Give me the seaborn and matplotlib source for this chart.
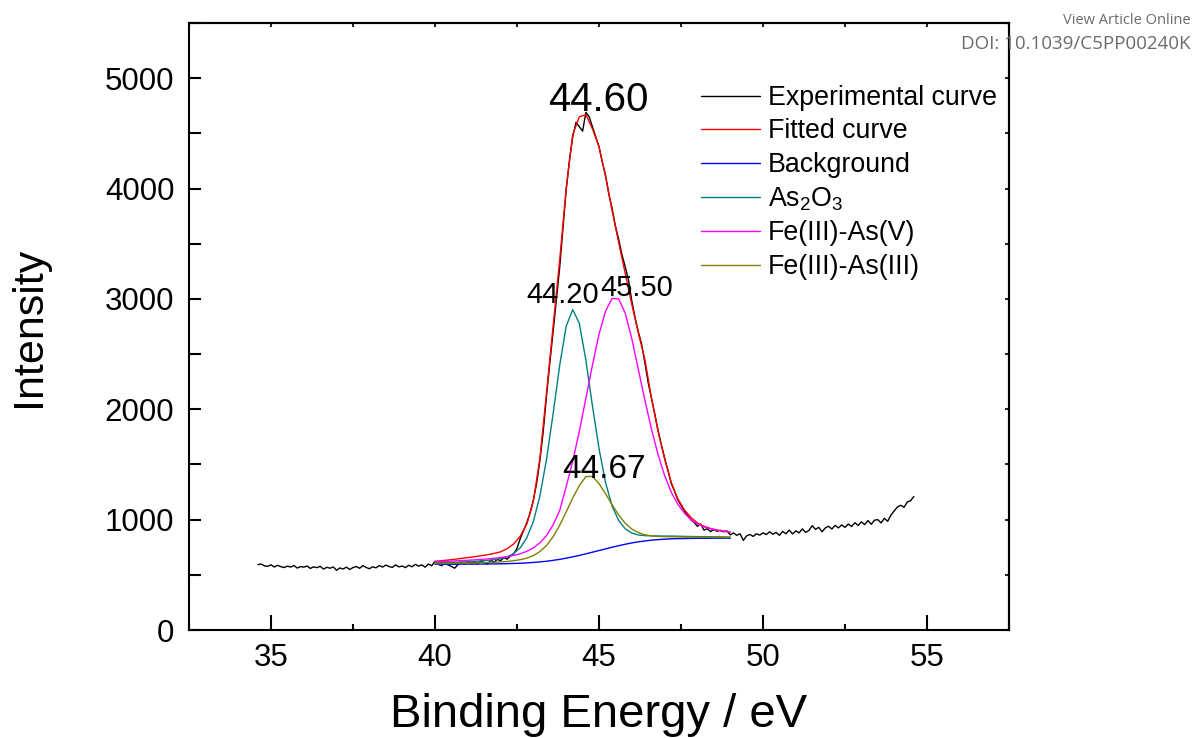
import seaborn as sns
import matplotlib.pyplot as plt
from matplotlib.ticker import MultipleLocator

# experimental spectrum (As 3d region)
exp_energy = [
    34.6, 34.7, 34.8, 34.9, 35.0, 35.1, 35.2, 35.3, 35.4, 35.5,
    35.6, 35.7, 35.8, 35.9, 36.0, 36.1, 36.2, 36.3, 36.4, 36.5,
    36.6, 36.7, 36.8, 36.9, 37.0, 37.1, 37.2, 37.3, 37.4, 37.5,
    37.6, 37.7, 37.8, 37.9, 38.0, 38.1, 38.2, 38.3, 38.4, 38.5,
    38.6, 38.7, 38.8, 38.9, 39.0, 39.1, 39.2, 39.3, 39.4, 39.5,
    39.6, 39.7, 39.8, 39.9, 40.0, 40.1, 40.2, 40.3, 40.4, 40.5,
    40.6, 40.7, 40.8, 40.9, 41.0, 41.1, 41.2, 41.3, 41.4, 41.5,
    41.6, 41.7, 41.8, 41.9, 42.0, 42.1, 42.2, 42.3, 42.4, 42.5,
    42.6, 42.7, 42.8, 42.9, 43.0, 43.1, 43.2, 43.3, 43.4, 43.5,
    43.6, 43.7, 43.8, 43.9, 44.0, 44.1, 44.2, 44.3, 44.4, 44.5,
    44.6, 44.7, 44.8, 44.9, 45.0, 45.1, 45.2, 45.3, 45.4, 45.5,
    45.6, 45.7, 45.8, 45.9, 46.0, 46.1, 46.2, 46.3, 46.4, 46.5,
    46.6, 46.7, 46.8, 46.9, 47.0, 47.1, 47.2, 47.3, 47.4, 47.5,
    47.6, 47.7, 47.8, 47.9, 48.0, 48.1, 48.2, 48.3, 48.4, 48.5,
    48.6, 48.7, 48.8, 48.9, 49.0, 49.1, 49.2, 49.3, 49.4, 49.5,
    49.6, 49.7, 49.8, 49.9, 50.0, 50.1, 50.2, 50.3, 50.4, 50.5,
    50.6, 50.7, 50.8, 50.9, 51.0, 51.1, 51.2, 51.3, 51.4, 51.5,
    51.6, 51.7, 51.8, 51.9, 52.0, 52.1, 52.2, 52.3, 52.4, 52.5,
    52.6, 52.7, 52.8, 52.9, 53.0, 53.1, 53.2, 53.3, 53.4, 53.5,
    53.6, 53.7, 53.8, 53.9, 54.0, 54.1, 54.2, 54.3, 54.4, 54.5,
    54.6,
]
exp_intensity = [
    592, 598, 581, 577, 590, 571, 586, 574, 566, 579,
    570, 584, 561, 575, 569, 580, 558, 572, 565, 577,
    552, 568, 560, 571, 541, 562, 553, 570, 548, 566,
    575, 559, 583, 567, 555, 573, 563, 584, 570, 588,
    575, 567, 590, 572, 580, 565, 587, 573, 595, 579,
    590, 569, 598, 582, 622, 595, 583, 602, 590, 576,
    560, 592, 614, 598, 620, 603, 617, 600, 626, 610,
    598, 632, 614, 640, 628, 655, 642, 670, 690, 740,
    830, 900, 975, 1060, 1180, 1330, 1540, 1800, 2120, 2420,
    2700, 2990, 3280, 3640, 3990, 4260, 4470, 4600, 4560, 4520,
    4690, 4650, 4560, 4470, 4380, 4240, 4120, 3950, 3820, 3660,
    3540, 3400, 3290, 3170, 2980, 2830, 2700, 2590, 2420, 2240,
    2100, 1960, 1810, 1680, 1560, 1450, 1330, 1260, 1180, 1130,
    1080, 1040, 1000, 975, 940, 960, 905, 918, 892, 910,
    895, 903, 890, 898, 862, 880, 858, 872, 812, 853,
    866, 848, 872, 860, 880, 865, 890, 868, 884, 858,
    893, 872, 905, 870, 898, 880, 916, 885, 902, 945,
    912, 930, 890, 925, 940, 915, 948, 925, 952, 930,
    960, 938, 972, 948, 980, 955, 992, 958, 995, 1000,
    970, 1012, 985, 1040, 1080, 1115, 1130, 1112, 1160, 1172,
    1210,
]

# fitted components
fit_energy = [
    40.0, 40.2, 40.4, 40.6, 40.8, 41.0, 41.2, 41.4, 41.6, 41.8,
    42.0, 42.2, 42.4, 42.6, 42.8, 43.0, 43.2, 43.4, 43.6, 43.8,
    44.0, 44.2, 44.4, 44.6, 44.8, 45.0, 45.2, 45.4, 45.6, 45.8,
    46.0, 46.2, 46.4, 46.6, 46.8, 47.0, 47.2, 47.4, 47.6, 47.8,
    48.0, 48.2, 48.4, 48.6, 48.8, 49.0,
]
fitted = [
    622, 628, 634, 641, 649, 656, 664, 673, 682, 694,
    708, 737, 780, 850, 960, 1170, 1560, 2150, 2750, 3350,
    4000, 4490, 4650, 4670, 4540, 4380, 4110, 3800, 3510, 3230,
    2950, 2690, 2450, 2100, 1800, 1550, 1340, 1190, 1090, 1020,
    970, 940, 920, 905, 895, 888,
]
background = [
    596, 596, 596, 596, 597, 597, 597, 598, 598, 599,
    600, 601, 603, 605, 608, 612, 617, 623, 631, 640,
    651, 663, 676, 690, 705, 720, 735, 750, 764, 777,
    789, 799, 807, 814, 819, 823, 826, 828, 829, 830,
    831, 831, 832, 832, 832, 832,
]
as2o3 = [
    609, 610, 611, 613, 616, 619, 622, 626, 631, 638,
    648, 663, 693, 745, 836, 984, 1217, 1548, 1957, 2395,
    2753, 2903, 2778, 2445, 2031, 1645, 1335, 1122, 992, 917,
    879, 861, 855, 853, 852, 851, 851, 850, 848, 847,
    846, 845, 845, 844, 843, 842,
]
fe3_as5 = [
    620, 622, 623, 626, 629, 632, 635, 640, 644, 650,
    656, 665, 676, 691, 713, 744, 790, 856, 952, 1082,
    1300, 1530, 1800, 2100, 2400, 2680, 2890, 3005, 3000, 2870,
    2640, 2360, 2080, 1820, 1590, 1400, 1250, 1140, 1060, 1000,
    962, 935, 917, 905, 896, 888,
]
fe3_as3 = [
    602, 602, 603, 604, 605, 606, 607, 610, 611, 614,
    617, 621, 628, 637, 651, 674, 711, 766, 845, 948,
    1070, 1197, 1308, 1390, 1392, 1326, 1235, 1134, 1042, 967,
    915, 882, 862, 853, 848, 846, 845, 844, 843, 843,
    842, 841, 841, 840, 839, 839,
]

series_labels = ["Experimental curve", "Fitted curve", "Background",
                 "As$_2$O$_3$", "Fe(III)-As(V)", "Fe(III)-As(III)"]
series_colors = ["black", "#ff0000", "#0000ff", "#008080", "#ff00ff", "#808000"]

# peak position labels
peak_text = ["44.60", "44.20", "45.50", "44.67"]
peak_text_x = [44.97, 43.89, 46.14, 45.15]
peak_text_y = [4700, 2967, 3022, 1379]
peak_text_size = [29, 21, 21, 24]

sns.set_style("ticks")
plt.rcParams["font.family"] = ["Liberation Sans", "DejaVu Sans"]
plt.rcParams["mathtext.fontset"] = "custom"
plt.rcParams["mathtext.rm"] = "Liberation Sans"
plt.rcParams["mathtext.it"] = "Liberation Sans:italic"
plt.rcParams["text.color"] = "black"
plt.rcParams["axes.labelcolor"] = "black"

fig, ax = plt.subplots(figsize=(11.92, 7.38), dpi=100)
fig.subplots_adjust(left=189 / 1192, right=1009 / 1192, bottom=108 / 738, top=715 / 738)

xs = [exp_energy] + [fit_energy] * 5
ys = [exp_intensity, fitted, background, as2o3, fe3_as5, fe3_as3]
for x, y, lab, col in zip(xs, ys, series_labels, series_colors):
    sns.lineplot(x=x, y=y, color=col, label=lab, lw=1.0, sort=False,
                 estimator=None, ax=ax)

for t, tx, ty, fs in zip(peak_text, peak_text_x, peak_text_y, peak_text_size):
    ax.text(tx, ty, t, fontsize=fs, ha="center", va="baseline", color="black")

ax.set_xlim(32.5, 57.5)
ax.set_ylim(0, 5500)
ax.xaxis.set_major_locator(MultipleLocator(5))
ax.xaxis.set_minor_locator(MultipleLocator(2.5))
ax.yaxis.set_major_locator(MultipleLocator(1000))
ax.yaxis.set_minor_locator(MultipleLocator(500))
ax.tick_params(which="both", direction="in", width=1.5, labelsize=22.5,
               colors="black", labelcolor="black")
ax.tick_params(axis="x", which="major", length=11, pad=9)
ax.tick_params(axis="x", which="minor", length=4.5)
ax.tick_params(axis="y", which="both", length=8.5, pad=10.5)

# small mirrored ticks on top and right
top = ax.secondary_xaxis("top")
top.xaxis.set_major_locator(MultipleLocator(2.5))
top.tick_params(direction="in", length=3, width=1.5, labeltop=False)
right = ax.secondary_yaxis("right")
right.yaxis.set_major_locator(MultipleLocator(500))
right.tick_params(direction="in", length=3, width=1.5, labelright=False)

for sp in list(ax.spines.values()) + [top.spines["top"], right.spines["right"]]:
    sp.set_linewidth(1.5)
    sp.set_color("black")

ax.set_xlabel("Binding Energy / eV", fontsize=34, labelpad=15)
ax.set_ylabel("Intensity", fontsize=31, labelpad=40)

ax.legend(loc="upper left", bbox_to_anchor=(0.624, 0.898), frameon=False,
          fontsize=19.3, handlelength=2.2, handletextpad=0.3,
          labelspacing=0.28, borderpad=0, borderaxespad=0)

fig.text(0.9985, 0.982, "View Article Online", ha="right", va="top",
         color="#6b6b6b", fontsize=10.5, family="Open Sans")
fig.text(0.9985, 0.952, "DOI: 10.1039/C5PP00240K", ha="right", va="top",
         color="#6b6b6b", fontsize=13.5, family="Open Sans")

plt.savefig("out.png", dpi=100)
